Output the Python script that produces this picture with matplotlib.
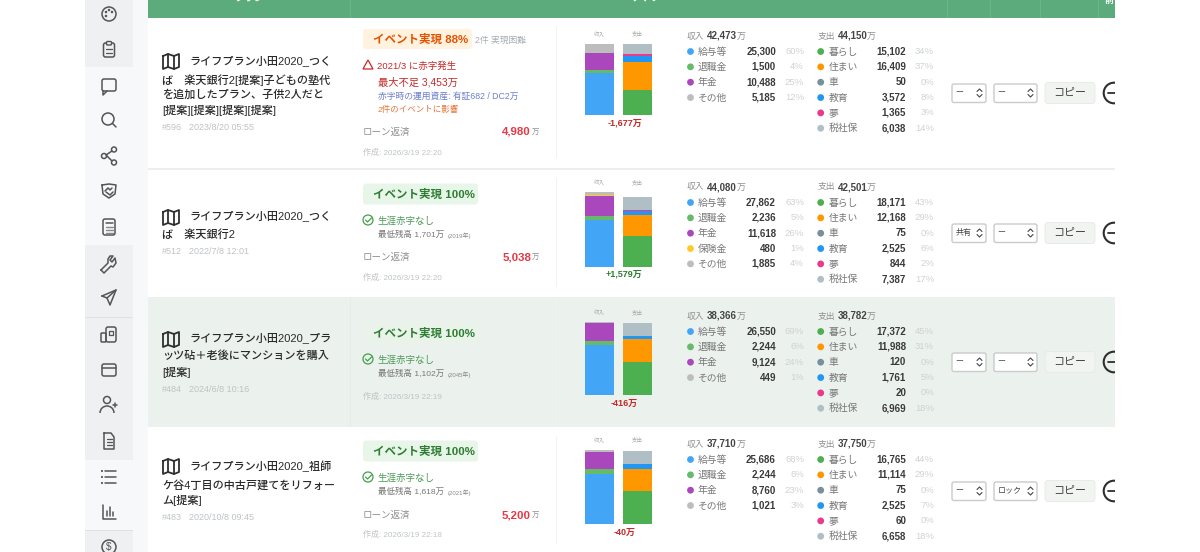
import matplotlib
matplotlib.use('Agg')
import matplotlib.pyplot as plt
from matplotlib.patches import Rectangle, FancyBboxPatch, Circle, Polygon, Arc

plt.rcParams['font.family'] = ['Liberation Sans', 'Noto Sans CJK JP', 'DejaVu Sans']

# data
plan_titles = [
    ['ライフプラン小田2020_つく', 'ば　楽天銀行2[提案]子どもの塾代', 'を追加したプラン、子供2人だと', '[提案][提案][提案][提案]'],
    ['ライフプラン小田2020_つく', 'ば　楽天銀行2'],
    ['ライフプラン小田2020_プラ', 'ッツ砧＋老後にマンションを購入', '[提案]'],
    ['ライフプラン小田2020_祖師', 'ケ谷4丁目の中古戸建てをリフォー', 'ム[提案]'],
]
plan_ids = ['#596', '#512', '#484', '#483']
plan_dates = ['2023/8/20 05:55', '2022/7/8 12:01', '2024/6/8 10:16', '2020/10/8 09:45']
created = ['作成: 2026/3/19 22:20', '作成: 2026/3/19 22:20', '作成: 2026/3/19 22:19', '作成: 2026/3/19 22:18']
event_pct = ['88%', '100%', '100%', '100%']
loans = ['4,980', '5,038', None, '5,200']
lowest = [None, '最低残高 1,701万', '最低残高 1,102万', '最低残高 1,618万']
lowest_year = [None, '(2019年)', '(2045年)', '(2021年)']
nets = ['-1,677万', '+1,579万', '-416万', '-40万']
income_totals = ['42,473', '44,080', '38,366', '37,710']
expense_totals = ['44,150', '42,501', '38,782', '37,750']

income_labels = [
    ['給与等', '退職金', '年金', 'その他'],
    ['給与等', '退職金', '年金', '保険金', 'その他'],
    ['給与等', '退職金', '年金', 'その他'],
    ['給与等', '退職金', '年金', 'その他'],
]
income_values = [
    [25300, 1500, 10488, 5185],
    [27862, 2236, 11618, 480, 1885],
    [26550, 2244, 9124, 449],
    [25686, 2244, 8760, 1021],
]
income_pcts = [
    ['60%', '4%', '25%', '12%'],
    ['63%', '5%', '26%', '1%', '4%'],
    ['69%', '6%', '24%', '1%'],
    ['68%', '6%', '23%', '3%'],
]
expense_labels = ['暮らし', '住まい', '車', '教育', '夢', '税社保']
expense_values = [
    [15102, 16409, 50, 3572, 1365, 6038],
    [18171, 12168, 75, 2525, 844, 7387],
    [17372, 11988, 120, 1761, 20, 6969],
    [16765, 11114, 75, 2525, 60, 6658],
]
expense_pcts = [
    ['34%', '37%', '0%', '8%', '3%', '14%'],
    ['43%', '29%', '0%', '6%', '2%', '17%'],
    ['45%', '31%', '0%', '5%', '0%', '18%'],
    ['44%', '29%', '0%', '7%', '0%', '18%'],
]
select_a = ['ー', '共有', 'ー', 'ー']
select_b = ['ー', 'ー', 'ー', 'ロック']

colors = {
    '給与等': '#42a5f5', '退職金': '#66bb6a', '年金': '#ab47bc', '保険金': '#ffca28', 'その他': '#bdbdbd',
    '暮らし': '#4caf50', '住まい': '#ff9800', '車': '#78909c', '教育': '#2196f3', '夢': '#e93a8c', '税社保': '#b0bec5',
}

# layout, in pixels of the screenshot
title_y = [[61, 80, 95, 110], [216, 235], [338, 356, 372], [466, 485, 500]]
id_y = [128, 252, 389, 517]
map_y = [62, 218, 340, 467]
badge_y = [39, 194, 333, 451]
status_y = [66, 221, 360, 478]
loan_y = [132, 257, None, 515]
created_y = [153, 278, 397, 535]
head_y = [36, 187, 316, 444]
bar_box = [(44, 115.3), (192.3, 266.7), (322.3, 395.3), (450, 524)]
net_y = [123, 274, 403, 532]
ctrl_y = [93, 233, 362, 491]

fig = plt.figure(figsize=(12, 5.52), dpi=100)
ax = fig.add_axes([0, 0, 1, 1])
ax.set_xlim(0, 1200)
ax.set_ylim(552, 0)
ax.axis('off')

INK = '#3a3a3a'
GREY = '#8f8f8f'
PALE = '#bfc3c6'
ICON = '#555555'


def px(size):
    return size * 0.72


def put(x, y, s, size, color=INK, ha='left', weight='normal', z=6):
    return ax.text(x, y, s, fontsize=px(size), color=color, ha=ha, va='center', fontweight=weight, zorder=z)


def rect(x0, y0, x1, y1, color, z=1):
    ax.add_patch(Rectangle((x0, y0), x1 - x0, y1 - y0, facecolor=color, edgecolor='none', zorder=z))


def rbox(x0, y0, x1, y1, fc, ec='none', r=3, lw=1, z=3):
    ax.add_patch(FancyBboxPatch((x0, y0), x1 - x0, y1 - y0, boxstyle=f'round,pad=0,rounding_size={r}',
                                facecolor=fc, edgecolor=ec, linewidth=lw, zorder=z))


def ln(xs, ys, color=ICON, lw=1.1):
    ax.plot(xs, ys, color=color, lw=lw, solid_capstyle='round', solid_joinstyle='round', zorder=6)


def ring(x, y, r, color=ICON, lw=1.1, fc='none'):
    ax.add_patch(Circle((x, y), r, facecolor=fc, edgecolor=color, linewidth=lw, zorder=6))


def box_icon(x0, y0, x1, y1, r=2):
    rbox(x0, y0, x1, y1, 'none', ec=ICON, r=r, lw=1.1, z=6)


# backgrounds
rect(85, 0, 148, 552, '#f7f8fa', 0)
rect(85, 0, 133, 67, '#eff0f2')
rect(85, 245, 133, 460, '#eff0f2')
rect(85, 530, 133, 552, '#eff0f2')
rect(85, 316.5, 133, 317.5, '#dfe1e3')
rect(85, 530, 133, 531, '#dfe1e3')
rect(148, 0, 1115, 18, '#5cab7d')
rect(148, 18, 1115, 552, '#ffffff')
rect(148, 168, 1115, 170, '#eeeeee')
rect(148, 297, 1115, 427, '#ebf1ed')
for x in [350, 947, 990, 1040, 1098]:
    rect(x, 0, x + 1, 18, '#6cb48a', 2)
for y0, y1 in [(27, 158), (178, 287), (297, 427), (436, 544)]:
    rect(556, y0, 557, y1, '#f1f2f2', 2)
rect(350, 297, 351, 427, '#e6ede8', 2)

# header text runs off the top of the screenshot
put(250, -2.5, 'プラン', 10, 'white', ha='center', weight='bold')
put(649, -2.5, 'サマリー', 10, 'white', ha='center', weight='bold')
put(1109, 0, '前', 9, 'white', ha='center', weight='bold')

# sidebar icons
sx = 109
ring(sx, 14, 7)
for dx, dy in [(-3, -2), (0, -4), (3, -2), (-3, 2)]:
    ring(sx + dx, 14 + dy, 0.7, lw=0.8)
box_icon(sx - 5.5, 43, sx + 5.5, 57)
rbox(sx - 2.5, 41.5, sx + 2.5, 45, '#eff0f2', ec=ICON, r=1, lw=1, z=7)
for y in [49, 53]:
    ln([sx - 3, sx + 3], [y, y], lw=0.9)
box_icon(sx - 7, 79, sx + 7, 91)
ln([sx - 6, sx - 6, sx - 2], [91, 95, 91])
ring(sx - 1, 119, 6)
ln([sx + 3.5, sx + 7], [123.5, 127])
ring(sx + 5, 149.5, 2.5)
ring(sx - 5, 156, 2.5)
ring(sx + 5, 162.5, 2.5)
ln([sx + 3, sx - 3, sx + 3], [151, 155, 161])
ln([sx - 7, sx, sx + 7, sx + 6, sx, sx - 6, sx - 7], [185, 184, 185, 194, 198, 194, 185])
ln([sx - 4, sx - 1, sx + 1, sx + 3], [191, 188, 190, 188])
ln([sx - 3, sx + 1, sx + 4], [192, 195, 192])
box_icon(sx - 6, 219, sx + 6, 235)
ln([sx - 3.5, sx + 3.5], [223, 223])
for y in [227, 230, 233]:
    ln([sx - 3.5, sx + 3.5], [y, y], lw=1, color='#888888')
# wrench: handle running up to an open jaw
ln([sx - 8, sx - 5, sx + 2, sx + 4, sx + 7, sx + 6, sx + 3, sx + 1, sx + 4, sx + 1, sx - 1, sx - 1, sx - 8],
   [270, 273, 266, 267, 263, 258, 262, 260, 256, 256, 259, 263, 270])
ln([sx - 7, sx + 7, sx + 1, sx - 2, sx - 7], [296, 290, 305, 298, 296])
ln([sx - 2, sx + 7], [298, 290])
box_icon(sx - 3, 327, sx + 7, 342)
box_icon(sx - 8, 333, sx - 3, 342, r=1)
ln([sx, sx + 4, sx + 4, sx, sx], [331, 331, 335, 335, 331], lw=0.9)
box_icon(sx - 7, 364, sx + 7, 376)
ln([sx - 7, sx + 7], [368, 368])
ring(sx - 2, 400, 3.5)
ax.add_patch(Arc((sx - 2, 413), 14, 14, theta1=180, theta2=360, color=ICON, lw=1.1, zorder=6))
ln([sx + 4, sx + 8], [405, 405])
ln([sx + 6, sx + 6], [403, 407])
ln([sx - 5, sx + 2, sx + 5, sx + 5, sx - 5, sx - 5], [433, 433, 437, 449, 449, 433])
for y in [439, 442, 445]:
    ln([sx - 2.5, sx + 2.5], [y, y], lw=0.9)
for y in [471, 477, 483]:
    ln([sx - 4, sx + 7], [y, y])
    ring(sx - 7, y, 0.5, lw=0.8)
ln([sx - 6, sx - 6, sx + 7], [505, 519, 519])
for dx, h in [(-2, 5), (1, 9), (4, 4)]:
    ln([sx + dx, sx + dx], [516, 516 - h])
ring(sx, 547, 7)
put(sx, 547, '$', 10, ICON, ha='center')

# table rows
for i in range(4):
    # plan title
    my = map_y[i]
    ln([163, 163, 168, 174, 179, 179, 174, 168, 163], [my - 6, my + 7, my + 5, my + 7, my + 5, my - 8, my - 6, my - 8, my - 6], color='#2e2e2e', lw=1.3)
    ln([168, 168], [my - 8, my + 5], color='#2e2e2e', lw=1.3)
    ln([174, 174], [my - 6, my + 7], color='#2e2e2e', lw=1.3)
    for j, line in enumerate(plan_titles[i]):
        put(189 if j == 0 else 162, title_y[i][j], line, 11.1, '#2a2a2a', weight='medium')
    put(162, id_y[i], plan_ids[i], 9, PALE)
    put(189, id_y[i], plan_dates[i], 9, PALE)

    # event badge
    by = badge_y[i]
    if i == 0:
        rbox(363, by - 10, 472, by + 10, '#fff3e0')
        put(373, by + 0.5, 'イベント実現 ' + event_pct[i], 11.5, '#e65100', weight='bold')
        put(475, by + 1, '2件 実現困難', 8.8, '#a8adb2')
    else:
        badge_color = '#e9f3ea' if i == 2 else '#e8f5e9'
        rbox(363, by - 10.5, 478, by + 10.5, badge_color)
        put(373, by, 'イベント実現 ' + event_pct[i], 11.5, '#2e7d32', weight='bold')

    # deficit status
    sy = status_y[i]
    if i == 0:
        ax.add_patch(Polygon([(368, sy - 6), (373, sy + 3), (363, sy + 3)], closed=True, fill=False, edgecolor='#c62828', linewidth=0.9, zorder=6))
        put(377, sy, '2021/3 に赤字発生', 9.5, '#c62828')
        put(378, sy + 16, '最大不足 3,453万', 10.3, '#c62828')
        put(378, sy + 30, '赤字時の運用資産: 有証682 / DC2万', 8.8, '#6f7fcc')
        put(378, sy + 44, '2件のイベントに影響', 8.5, '#e8743b')
    else:
        ring(368, sy - 1, 5, color='#43a047', lw=0.9)
        ln([365.5, 367.5, 371.5], [sy - 1, sy + 1, sy - 3], color='#43a047', lw=0.9)
        put(377, sy, '生涯赤字なし', 9.5, '#4c9a58')
        put(378, sy + 14, lowest[i], 8.5, '#777777')
        put(448, sy + 14.5, lowest_year[i], 6, '#888888')

    if loans[i]:
        put(363, loan_y[i], 'ローン返済', 9.5, GREY)
        put(531, loan_y[i], loans[i], 11.5, '#e53945', ha='right', weight='bold')
        put(532, loan_y[i] + 0.5, '万', 7.5, GREY)
    put(363, created_y[i], created[i], 8, PALE)

    # stacked bars, one small axes per row
    top, bottom = bar_box[i]
    bar_ax = fig.add_axes([585 / 1200, 1 - bottom / 552, 67 / 1200, (bottom - top) / 552])
    bar_ax.axis('off')
    base = 0
    for label, value in zip(income_labels[i], income_values[i]):
        bar_ax.bar(0, value, width=0.786, bottom=base, color=colors[label])
        base += value
    income_sum = base
    base = 0
    for label, value in zip(expense_labels, expense_values[i]):
        bar_ax.bar(1, value, width=0.786, bottom=base, color=colors[label])
        base += value
    bar_ax.set_xlim(-0.393, 1.393)
    bar_ax.set_ylim(0, max(income_sum, base))

    put(599.5, top - 10, '収入', 5.5, '#a6a6a6', ha='center')
    put(637, top - 10, '支出', 5.5, '#a6a6a6', ha='center')
    put(624.5, net_y[i], nets[i], 9, '#2e7d32' if nets[i][0] == '+' else '#c62828', ha='center', weight='bold')

    # income and expense lists
    hy = head_y[i]
    put(687, hy, '収入', 8.8, GREY)
    put(707, hy, income_totals[i], 9.8, '#444444', weight='bold')
    put(736.5, hy, '万', 9, GREY)
    put(817.5, hy, '支出', 8.8, GREY)
    put(837.5, hy, expense_totals[i], 9.8, '#444444', weight='bold')
    put(867, hy, '万', 9, GREY)
    for j, label in enumerate(income_labels[i]):
        y = hy + 15.5 + j * 15.35
        ax.add_patch(Circle((690.5, y), 3.4, facecolor=colors[label], edgecolor='none', zorder=6))
        put(698, y, label, 9.8, '#777777')
        put(776, y, f'{income_values[i][j]:,}', 9.8, '#3a3a3a', ha='right', weight='bold')
        put(804, y, income_pcts[i][j], 9.5, '#cfd2d4', ha='right')
    for j, label in enumerate(expense_labels):
        y = hy + 15.5 + j * 15.35
        ax.add_patch(Circle((820.7, y), 3.4, facecolor=colors[label], edgecolor='none', zorder=6))
        put(828.5, y, label, 9.8, '#777777')
        put(906, y, f'{expense_values[i][j]:,}', 9.8, '#3a3a3a', ha='right', weight='bold')
        put(934, y, expense_pcts[i][j], 9.5, '#cfd2d4', ha='right')

    # controls
    cy = ctrl_y[i]
    for x0, x1, s in [(952, 986, select_a[i]), (994, 1037, select_b[i])]:
        rbox(x0, cy - 9, x1, cy + 9.5, 'white', ec='#c9cbcd', r=2)
        put(x0 + 3.5, cy, s, 8, '#444444')
        ln([x1 - 9, x1 - 6.5, x1 - 4], [cy - 1.5, cy - 4, cy - 1.5], color='#444444', lw=0.8)
        ln([x1 - 9, x1 - 6.5, x1 - 4], [cy + 1.5, cy + 4, cy + 1.5], color='#444444', lw=0.8)
    rbox(1045, cy - 10.5, 1095, cy + 10.5, '#f1f4f1', ec='#e6eae6', r=3, lw=0.6)
    put(1070, cy, 'コピー', 11, '#444444', ha='center')
    ring(1114, cy, 10.3, color='#2e2e2e', lw=1.5)
    ln([1108, 1116], [cy, cy], color='#2e2e2e', lw=1.3)

# white area right of the table hides whatever runs past its edge
rect(1115, 0, 1200, 552, 'white', 10)

fig.savefig('out.png', dpi=100)
